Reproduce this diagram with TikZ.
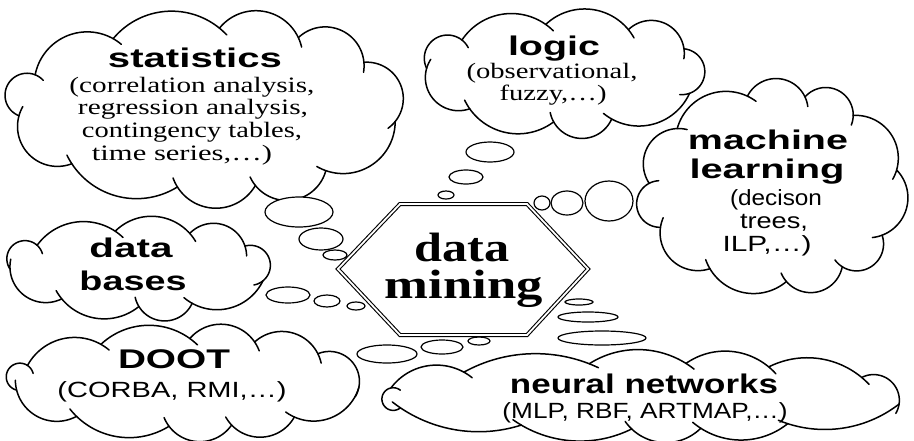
\documentclass[tikz,border=0pt]{standalone}
\usepackage{fontspec}
\usepackage{graphicx}
\setmainfont{Liberation Serif}
\setsansfont{Liberation Sans}
\usetikzlibrary{shapes.geometric}

% stretch a line of text to a given width, keeping its height
\newcommand\fitw[2]{\resizebox{#1pt}{\height}{#2}}

% jitter of the puff positions (degrees) and length of the inner hooks (pt)
\newcommand\cJ{5}
\newcommand\cHook{10}

% A hand-drawn cloud: circular puffs laid on a core ellipse.
% #1,#2 centre; #3,#4 half axes of the core ellipse; #5 number of puffs;
% #6 phase (deg); #7 crowding of puffs at the narrow ends (deg);
% #8 height of each puff above the core (pt); #9 hook on/off (1/0)
\newcommand\puffcloud[9]{%
  \foreach \i in {1,...,#5}{%
    \pgfmathsetmacro\pa{#6+(\i-1)*360/#5+\cJ*sin(1080*(\i-1)/#5)}%
    \pgfmathsetmacro\pb{#6+\i*360/#5+\cJ*sin(1080*\i/#5)}%
    \pgfmathsetmacro\ta{\pa+#7*sin(2*\pa)}%
    \pgfmathsetmacro\tb{\pb+#7*sin(2*\pb)}%
    \pgfmathsetmacro\Px{#1+#3*cos(\ta)}%
    \pgfmathsetmacro\Py{#2+#4*sin(\ta)}%
    \pgfmathsetmacro\Qx{#1+#3*cos(\tb)}%
    \pgfmathsetmacro\Qy{#2+#4*sin(\tb)}%
    \pgfmathsetmacro\dd{veclen(\Qx-\Px,\Qy-\Py)}%
    \pgfmathsetmacro\Mx{(\Px+\Qx)/2}%
    \pgfmathsetmacro\My{(\Py+\Qy)/2}%
    \pgfmathsetmacro\nx{-(\Qy-\Py)/\dd}%
    \pgfmathsetmacro\ny{(\Qx-\Px)/\dd}%
    \pgfmathsetmacro\sg{(((\Mx-#1)*\nx+(\My-#2)*\ny)<0) ? -1 : 1}%
    \pgfmathsetmacro\bb{2*atan(2*#8/\dd)}%
    \pgfmathsetmacro\rr{\dd/(2*sin(\bb))}%
    \pgfmathsetmacro\hh{\rr*cos(\bb)}%
    \pgfmathsetmacro\Cx{\Mx-\sg*\hh*\nx}%
    \pgfmathsetmacro\Cy{\My-\sg*\hh*\ny}%
    \pgfmathsetmacro\gg{atan2(\sg*\ny,\sg*\nx)}%
    \pgfmathsetmacro\lo{\gg-\bb}%
    \pgfmathsetmacro\hi{\gg+\bb+#9*\cHook*57.3/\rr}%
    \draw[cloudline] plot[domain=\lo:\hi, samples=40, variable=\u]
      ({\Cx+\rr*cos(\u)},{\Cy+\rr*sin(\u)});
  }%
}

\tikzset{
  cloudline/.style={line width=1.5pt, line cap=round, line join=round},
  bub/.style={ellipse, draw, fill=white, line width=1.2pt, inner sep=0pt},
  hexline/.style={draw, line width=1.1pt, double=white, double distance=1.8pt, line join=miter},
  hd/.style={font=\sffamily\bfseries\fontsize{27}{27}\selectfont, anchor=base, inner sep=0pt},
  ssub/.style={font=\sffamily\fontsize{22}{22}\selectfont, anchor=base, inner sep=0pt},
  rsub/.style={font=\rmfamily\fontsize{22}{22}\selectfont, anchor=base, inner sep=0pt},
  dmtext/.style={font=\rmfamily\bfseries\fontsize{41}{41}\selectfont, anchor=base, inner sep=0pt},
}

\begin{document}
\begin{tikzpicture}[x=1pt,y=-1pt]
\useasboundingbox (0,0) rectangle (914,440);
\fill[white] (0,0) rectangle (914,440);

% clouds
\puffcloud{208}{108}{190}{80}{11}{8}{6}{22}{1}          % statistics
\puffcloud{564}{73}{138}{49}{9}{20}{7}{18}{1}           % logic
\puffcloud{774}{188}{125}{94}{11}{-10}{3}{18}{1}        % machine learning
\puffcloud{140}{268.5}{130}{38}{9}{15}{8}{16}{1}        % data bases
\puffcloud{187}{382.5}{173}{44}{11}{5}{9}{16}{1}        % DOOT
\puffcloud{645}{396}{262}{33}{12}{10}{12}{14}{1}        % neural networks

% thought bubbles leading to the centre
\node[bub, minimum width=68pt, minimum height=30pt] (s1) at (299,212) {};
\node[bub, minimum width=44pt, minimum height=22pt] (s2) at (321,239) {};
\node[bub, minimum width=24pt, minimum height=10pt] (s3) at (335,255) {};

\node[bub, minimum width=48pt, minimum height=20pt] (l1) at (490,152) {};
\node[bub, minimum width=34pt, minimum height=14pt] (l2) at (466,177) {};
\node[bub, minimum width=16pt, minimum height=8pt]  (l3) at (446,195) {};

\node[bub, minimum width=48pt, minimum height=40pt] (m1) at (609,201) {};
\node[bub, minimum width=32pt, minimum height=24pt] (m2) at (567,203) {};
\node[bub, minimum width=16pt, minimum height=14pt] (m3) at (542,203) {};

\node[bub, minimum width=44pt, minimum height=16pt] (d1) at (288,295) {};
\node[bub, minimum width=26pt, minimum height=12pt] (d2) at (327,301) {};
\node[bub, minimum width=18pt, minimum height=8pt]  (d3) at (356,306) {};

\node[bub, minimum width=60pt, minimum height=18pt] (o1) at (387,354) {};
\node[bub, minimum width=42pt, minimum height=14pt] (o2) at (442,347) {};
\node[bub, minimum width=22pt, minimum height=8pt]  (o3) at (479,341) {};

\node[bub, minimum width=88pt, minimum height=14pt] (n1) at (602,338) {};
\node[bub, minimum width=60pt, minimum height=10pt] (n2) at (588,317) {};
\node[bub, minimum width=28pt, minimum height=6pt]  (n3) at (579,302) {};

% central hexagon
\coordinate (hW) at (338,269);
\coordinate (hNW) at (400,204);
\coordinate (hNE) at (527,204);
\coordinate (hE) at (588,269);
\coordinate (hSE) at (527,335);
\coordinate (hSW) at (400,335);
\fill[white] (hW) -- (hNW) -- (hNE) -- (hE) -- (hSE) -- (hSW) -- cycle;
\path[hexline] (hW) -- (hNW) -- (hNE) -- (hE) -- (hSE) -- (hSW) -- cycle;
\node[dmtext] (dm1) at (462,261) {\fitw{95}{data}};
\node[dmtext] (dm2) at (464,298) {\fitw{158}{mining}};

% statistics
\node[hd]   (st0) at (195,67)  {\fitw{174}{statistics}};
\node[rsub] (st1) at (192,92)  {\fitw{245}{(correlation analysis,}};
\node[rsub] (st2) at (193,114) {\fitw{230}{regression analysis,}};
\node[rsub] (st3) at (192,137) {\fitw{220}{contingency tables,}};
\node[rsub] (st4) at (182,160) {\fitw{180}{time series,\ldots)}};

% logic
\node[hd]   (lg0) at (554,55)  {\fitw{92}{logic}};
\node[rsub] (lg1) at (552,78)  {\fitw{171}{(observational,}};
\node[rsub] (lg2) at (553,100) {\fitw{107}{fuzzy,\ldots)}};

% machine learning
\node[hd]   (ml0) at (768,149) {\fitw{160}{machine}};
\node[hd]   (ml1) at (767,178) {\fitw{155}{learning}};
\node[ssub] (ml2) at (776,205) {\fitw{92}{(decison}};
\node[ssub] (ml3) at (774,228) {\fitw{68}{trees,}};
\node[ssub] (ml4) at (767,251) {\fitw{89}{ILP,\ldots)}};

% data bases
\node[hd] (db0) at (131,257) {\fitw{83}{data}};
\node[hd] (db1) at (133,290) {\fitw{107}{bases}};

% DOOT
\node[hd]   (do0) at (174,368) {\fitw{112}{DOOT}};
\node[ssub] (do1) at (172,397) {\fitw{229}{(CORBA, RMI,\ldots)}};

% neural networks
\node[hd]   (nn0) at (644,393) {\fitw{268}{neural networks}};
\node[ssub] (nn1) at (645,418) {\fitw{285}{(MLP, RBF, ARTMAP,\ldots)}};
\end{tikzpicture}
\end{document}
